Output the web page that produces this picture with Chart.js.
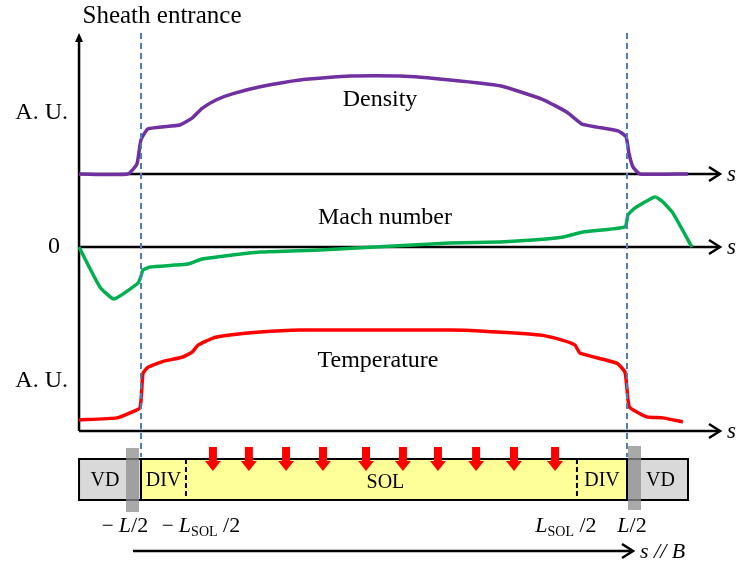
<!DOCTYPE html>
<html>
<head>
<meta charset="utf-8">
<script src="https://cdn.jsdelivr.net/npm/chart.js@4.4.1/dist/chart.umd.min.js"></script>
<style>
  html, body { margin: 0; padding: 0; background: #fff; }
  canvas { display: block; }
</style>
</head>
<body>
<canvas id="c" width="736" height="568"></canvas>
<script>
// Position along the field line, in units of L/2 (sheath entrances at s = -1 and s = +1)
const sDensity = [-1.255, -1.054, -1.017, -1.000, -0.971, -0.840, -0.790, -0.749, -0.687, -0.621, -0.510,
                  -0.346, -0.140, 0.066, 0.272, 0.477, 0.654, 0.753, 0.815, 0.963, 0.996, 1.008, 1.025, 1.054, 1.251];
const density  = [0, 0, 0.10, 0.35, 0.46, 0.50, 0.57, 0.67, 0.76, 0.82, 0.89,
                  0.96, 1.00, 1.00, 0.96, 0.90, 0.76, 0.63, 0.51, 0.44, 0.38, 0.21, 0.07, 0, 0];

const sMach = [-1.255, -1.169, -1.111, -1.012, -1.000, -0.992, -0.963, -0.807, -0.749, -0.687, -0.510, -0.263,
               -0.037, 0.272, 0.477, 0.613, 0.737, 0.819, 0.992, 1.004, 1.033, 1.115, 1.148, 1.189, 1.267];
const mach  = [0, -1.33, -1.73, -1.20, -0.97, -0.77, -0.67, -0.57, -0.40, -0.33, -0.17, -0.10,
               0, 0.13, 0.17, 0.23, 0.33, 0.50, 0.67, 1.07, 1.30, 1.67, 1.50, 1.13, 0];

const sTemp = [-1.255, -1.099, -1.045, -1.004, -0.992, -0.971, -0.909, -0.831, -0.790, -0.765, -0.704, -0.634, -0.510,
               -0.346, -0.140, 0.066, 0.272, 0.395, 0.642, 0.733, 0.786, 0.807, 0.959, 0.992, 1.004, 1.012, 1.082, 1.148, 1.230];
const temperature = [0.11, 0.13, 0.18, 0.23, 0.57, 0.63, 0.69, 0.73, 0.78, 0.85, 0.92, 0.95, 0.98,
                     1.00, 1.00, 1.00, 1.00, 0.99, 0.95, 0.90, 0.85, 0.77, 0.67, 0.58, 0.31, 0.23, 0.14, 0.13, 0.09];

// Geometry of the flux tube: vacuum region ends, sheath entrances, SOL/divertor boundary
const tubeEnds = [-1.255, 1.251];
const sheathS = [-1, 1];
const solS = [-0.815, 0.794];
// Where the particle/heat sources enter the SOL
const sourceS = [-0.704, -0.556, -0.403, -0.251, -0.074, 0.078, 0.222, 0.379, 0.535, 0.704];
// Region names inside the tube
const regionNames = ['VD', 'DIV', 'SOL', 'DIV', 'VD'];
const curveNames = ['Density', 'Mach number', 'Temperature'];

const serif = '"Liberation Serif", "Times New Roman", serif';
const W = 736, H = 568;
// pixel layout of the three stacked profiles
const xCentre = 384, xUnit = 243;
const nZero = 174, nUnit = 98;
const mZero = 247, mUnit = 30;
const tZero = 431, tUnit = 101;
const axisTipS = (720 - xCentre) / xUnit;

function line(ctx, x1, y1, x2, y2) {
  ctx.beginPath(); ctx.moveTo(x1, y1); ctx.lineTo(x2, y2); ctx.stroke();
}
function chevronRight(ctx, x, y) {
  ctx.beginPath(); ctx.moveTo(x - 11, y - 7); ctx.lineTo(x, y); ctx.lineTo(x - 11, y + 7); ctx.stroke();
}
function richText(ctx, segs, cx, baseY) {
  let total = 0;
  segs.forEach(s => {
    ctx.font = (s.italic ? 'italic ' : '') + s.size + 'px ' + serif;
    s.w = ctx.measureText(s.t).width + (s.gap || 0);
    total += s.w;
  });
  let x = cx - total / 2;
  ctx.textAlign = 'left'; ctx.textBaseline = 'alphabetic';
  segs.forEach(s => {
    ctx.font = (s.italic ? 'italic ' : '') + s.size + 'px ' + serif;
    ctx.fillText(s.t, x, baseY + (s.dy || 0));
    x += s.w;
  });
}

const axesPlugin = {
  id: 'profileAxes',
  beforeDatasetsDraw(chart) {
    const ctx = chart.ctx, sx = chart.scales.x;
    const yN = chart.scales.yN, yM = chart.scales.yM, yT = chart.scales.yT;
    const x0 = sx.getPixelForValue(tubeEnds[0]);
    const xTip = sx.getPixelForValue(axisTipS);
    ctx.save();
    ctx.strokeStyle = '#000'; ctx.lineWidth = 2.5; ctx.lineCap = 'butt';
    // vertical axis
    const top = yN.getPixelForValue(1.44);
    line(ctx, x0, top + 4, x0, yT.getPixelForValue(0));
    ctx.fillStyle = '#000';
    ctx.beginPath(); ctx.moveTo(x0, top); ctx.lineTo(x0 - 4, top + 9); ctx.lineTo(x0 + 4, top + 9); ctx.closePath(); ctx.fill();
    // three s axes
    [yN, yM, yT].forEach(sc => {
      const y = sc.getPixelForValue(0);
      line(ctx, x0, y, xTip - 1, y);
      chevronRight(ctx, xTip, y);
      ctx.font = 'italic 23px ' + serif;
      ctx.textAlign = 'left'; ctx.textBaseline = 'middle';
      ctx.fillText('s', xTip + 7, y + 1);
    });
    ctx.restore();
  },
  afterDatasetsDraw(chart) {
    const ctx = chart.ctx, sx = chart.scales.x;
    const yN = chart.scales.yN, yT = chart.scales.yT;
    const axT = yT.getPixelForValue(0);
    const boxTop = axT + 28, boxBot = axT + 69;
    const xL = sx.getPixelForValue(tubeEnds[0]), xR = sx.getPixelForValue(tubeEnds[1]);
    const xs1 = sx.getPixelForValue(sheathS[0]), xs2 = sx.getPixelForValue(sheathS[1]);
    const xd1 = sx.getPixelForValue(solS[0]), xd2 = sx.getPixelForValue(solS[1]);
    ctx.save();

    // sheath entrance markers
    ctx.strokeStyle = '#4a7ebb'; ctx.lineWidth = 2; ctx.setLineDash([6, 4]);
    const top = yN.getPixelForValue(1.44);
    [xs1, xs2].forEach(x => line(ctx, x, top, x, boxTop - 2));
    ctx.setLineDash([]);

    // text labels
    ctx.fillStyle = '#000';
    ctx.font = '25px ' + serif; ctx.textBaseline = 'middle';
    ctx.textAlign = 'center';
    ctx.fillText('Sheath entrance', 162, 16);
    ctx.font = '24px ' + serif;
    ctx.textAlign = 'right';
    ctx.fillText('A. U.', 68, 113);
    ctx.fillText('A. U.', 68, 381);
    ctx.fillText('0', 60, mZero);
    ctx.textAlign = 'center';
    ctx.fillText(curveNames[0], 380, 100);
    ctx.fillText(curveNames[1], 385, 218);
    ctx.fillText(curveNames[2], 378, 361);

    // flux tube
    ctx.fillStyle = '#d9d9d9';
    ctx.fillRect(xL, boxTop, xs1 - xL, boxBot - boxTop);
    ctx.fillRect(xs2, boxTop, xR - xs2, boxBot - boxTop);
    ctx.fillStyle = '#ffff99';
    ctx.fillRect(xs1, boxTop, xs2 - xs1, boxBot - boxTop);
    ctx.strokeStyle = '#000'; ctx.lineWidth = 2;
    ctx.strokeRect(xL, boxTop, xR - xL, boxBot - boxTop);
    line(ctx, xs1, boxTop, xs1, boxBot);
    line(ctx, xs2, boxTop, xs2, boxBot);
    ctx.setLineDash([5, 3]);
    line(ctx, xd1, boxTop, xd1, boxBot);
    line(ctx, xd2, boxTop, xd2, boxBot);
    ctx.setLineDash([]);
    // sheath bands
    ctx.fillStyle = 'rgba(140,140,140,0.75)';
    ctx.fillRect(xs1 - 15, boxTop - 11, 13, 64);
    ctx.fillRect(xs2 + 1, boxTop - 13, 13, 64);

    // region names
    ctx.fillStyle = '#000';
    ctx.textAlign = 'center'; ctx.textBaseline = 'middle';
    const mid = (boxTop + boxBot) / 2 + 1;
    const regionX = [(xL + xs1) / 2 - 5, (xs1 + xd1) / 2, (xd1 + xd2) / 2 + 4, (xd2 + xs2) / 2, (xs2 + xR) / 2 + 3];
    regionNames.forEach((n, i) => {
      ctx.font = '20px ' + serif;
      ctx.fillText(n, regionX[i], i === 2 ? mid + 2 : mid);
    });

    // sources
    ctx.fillStyle = '#ff0000';
    sourceS.forEach(s => {
      const x = sx.getPixelForValue(s);
      ctx.fillRect(x - 4, boxTop - 12, 8, 15);
      ctx.beginPath();
      ctx.moveTo(x - 8, boxTop + 2); ctx.lineTo(x + 8, boxTop + 2); ctx.lineTo(x, boxTop + 12);
      ctx.closePath(); ctx.fill();
    });

    // position labels
    ctx.fillStyle = '#000';
    const lb = boxBot + 32;
    richText(ctx, [{t: '\u2212 ', size: 21}, {t: 'L', size: 22, italic: true}, {t: '/2', size: 22}], xs1 - 16, lb);
    richText(ctx, [{t: '\u2212 ', size: 21}, {t: 'L', size: 22, italic: true}, {t: 'SOL', size: 14, dy: 4}, {t: ' /2', size: 22}], xd1 + 15, lb);
    richText(ctx, [{t: 'L', size: 22, italic: true}, {t: 'SOL', size: 14, dy: 4}, {t: ' /2', size: 22}], xd2 - 11, lb);
    richText(ctx, [{t: 'L', size: 22, italic: true}, {t: '/2', size: 22}], xs2 + 5, lb);

    // s // B arrow
    const ay = boxBot + 51;
    ctx.strokeStyle = '#000'; ctx.lineWidth = 2.5;
    const ax1 = xs1 - 8, ax2 = xs2 + 6;
    line(ctx, ax1, ay, ax2 - 1, ay);
    chevronRight(ctx, ax2, ay);
    ctx.font = 'italic 22px ' + serif; ctx.textAlign = 'left'; ctx.textBaseline = 'middle';
    ctx.fillText('s // B', ax2 + 7, ay + 1);

    ctx.restore();
  }
};

const pts = (xs, ys) => xs.map((x, i) => ({x: x, y: ys[i]}));
const yScale = (zero, unit) => ({
  type: 'linear', display: false,
  min: -(H - zero) / unit, max: zero / unit
});

new Chart(document.getElementById('c'), {
  type: 'scatter',
  data: {
    datasets: [
      {label: curveNames[0], data: pts(sDensity, density), yAxisID: 'yN', borderColor: '#7030a0'},
      {label: curveNames[1], data: pts(sMach, mach), yAxisID: 'yM', borderColor: '#00b050'},
      {label: curveNames[2], data: pts(sTemp, temperature), yAxisID: 'yT', borderColor: '#ff0000'}
    ].map(d => Object.assign(d, {showLine: true, borderWidth: 3.5, pointRadius: 0, tension: 0.15,
                                  borderJoinStyle: 'round', clip: false}))
  },
  options: {
    responsive: false,
    animation: false,
    layout: {padding: 0},
    plugins: {legend: {display: false}, tooltip: {enabled: false}},
    scales: {
      x: {type: 'linear', display: false, min: -xCentre / xUnit, max: (W - xCentre) / xUnit},
      yN: yScale(nZero, nUnit),
      yM: yScale(mZero, mUnit),
      yT: yScale(tZero, tUnit)
    }
  },
  plugins: [axesPlugin]
});
</script>
</body>
</html>
